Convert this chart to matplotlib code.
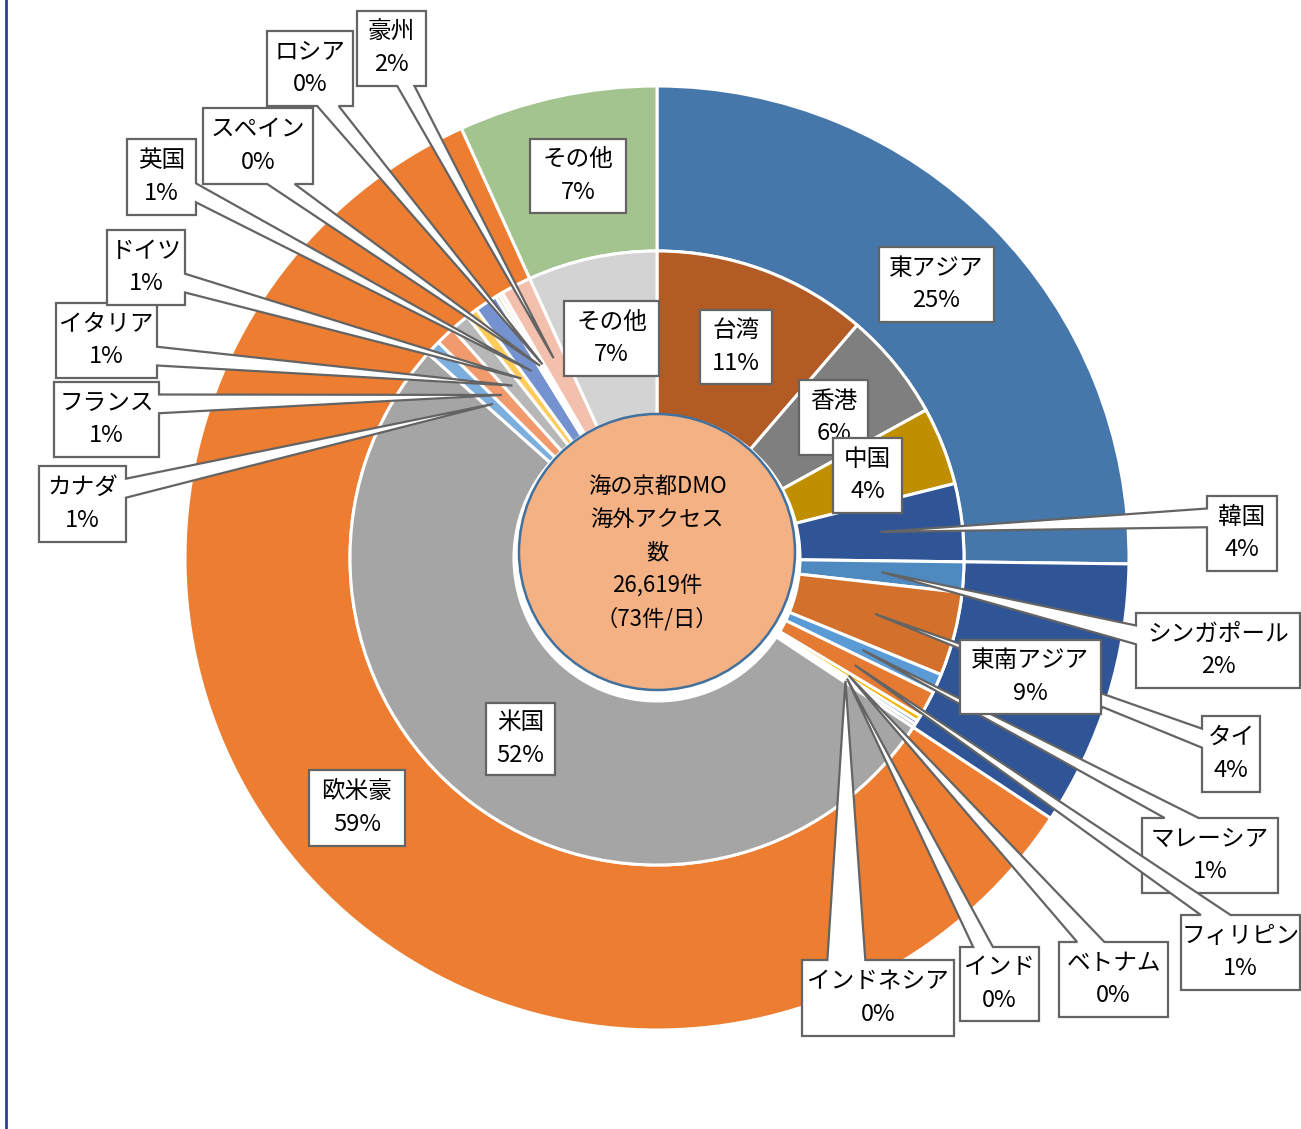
import matplotlib
matplotlib.use('Agg')
import matplotlib.pyplot as plt
import numpy as np
from matplotlib.patches import Polygon, Circle
from matplotlib.lines import Line2D

plt.rcParams['font.family'] = ['Noto Sans CJK JP', 'DejaVu Sans']

# access share by country (%), grouped by region
east_asia = ['台湾', '香港', '中国', '韓国']
east_asia_share = [11.3, 5.7, 4.1, 4.1]
se_asia = ['シンガポール', 'タイ', 'マレーシア', 'フィリピン', 'ベトナム', 'インド', 'インドネシア']
se_asia_share = [1.6, 4.4, 1.0, 1.4, 0.3, 0.2, 0.2]
western = ['米国', 'カナダ', 'フランス', 'イタリア', 'ドイツ', '英国', 'スペイン', 'ロシア', '豪州']
western_share = [52.3, 0.8, 1.0, 1.0, 0.6, 1.2, 0.2, 0.2, 1.6]
others = ['その他']
others_share = [6.8]

regions = ['東アジア', '東南アジア', '欧米豪', 'その他']
center_text = '海の京都DMO\n海外アクセス\n数\n26,619件\n（73件/日）'

countries = east_asia + se_asia + western + others
country_share = east_asia_share + se_asia_share + western_share + others_share
region_share = [sum(east_asia_share), sum(se_asia_share), sum(western_share), sum(others_share)]

region_colors = ['#4677AB', '#2F5597', '#ED7D31', '#A3C48F']
country_colors = ['#B25B24', '#7F7F7F', '#BF8F00', '#2F5597',
                  '#4E89C0', '#D3702B', '#5B9BD5', '#E57A33', '#F2B400', '#4472C4', '#A5A5A5',
                  '#A5A5A5', '#7CAFDD', '#F09A6E', '#B7B7B7', '#FFCB5A', '#7592D0',
                  '#C5D9A0', '#F8D9C8', '#F4C0AE',
                  '#D3D3D3']

# label boxes, pixel coords (left, top, right, bottom)
country_boxes = {
    '台湾': (700, 310, 772, 384), '香港': (799, 380, 868, 455),
    '中国': (833, 438, 902, 513), '韓国': (1207, 496, 1277, 571),
    'シンガポール': (1136, 613, 1300, 688), 'タイ': (1202, 716, 1260, 792),
    'マレーシア': (1142, 818, 1278, 893), 'フィリピン': (1181, 915, 1300, 990),
    'ベトナム': (1059, 942, 1168, 1017), 'インド': (960, 947, 1039, 1021),
    'インドネシア': (802, 960, 954, 1036), '米国': (486, 703, 555, 775),
    'カナダ': (39, 466, 126, 542), 'フランス': (54, 382, 159, 457),
    'イタリア': (56, 303, 157, 378), 'ドイツ': (107, 230, 185, 305),
    '英国': (127, 139, 196, 215), 'スペイン': (203, 108, 313, 184),
    'ロシア': (267, 31, 353, 106), '豪州': (357, 11, 426, 86),
    'その他': (564, 301, 659, 376),
}
region_boxes = {
    '東アジア': (879, 247, 994, 322), '東南アジア': (960, 640, 1101, 714),
    '欧米豪': (309, 770, 405, 846), 'その他': (530, 139, 626, 213),
}

W, H = 1301, 1129
CX, CY, S = 657, 558, 472.0
R_MID = 307 / S
R_IN = 143 / S


def to_data(x, y):
    return (x - CX) / S, (CY - y) / S


def to_px(x, y):
    return CX + S * x, CY - S * y


def callout_outline(box, tip):
    """Rectangle outline with a wedge pointing at tip (pixel coords)."""
    x0, y0, x1, y1 = box
    w, h = x1 - x0, y1 - y0
    cx, cy = (x0 + x1) / 2, (y0 + y1) / 2
    tx, ty = tip
    if x0 <= tx <= x1 and y0 <= ty <= y1:
        return [(x0, y0), (x1, y0), (x1, y1), (x0, y1)]
    dx, dy = (tx - cx) / w, (ty - cy) / h
    fx = (7, 10) if tx > cx else (2, 5)
    fy = (7, 10) if ty > cy else (2, 5)
    bx = [x0 + w * f / 12 for f in fx]
    by = [y0 + h * f / 12 for f in fy]
    top = [(x0, y0)]
    right = [(x1, y0)]
    bottom = [(x1, y1)]
    left = [(x0, y1)]
    if abs(dy) > abs(dx):
        if ty < cy:
            top += [(bx[0], y0), tip, (bx[1], y0)]
        else:
            bottom += [(bx[1], y1), tip, (bx[0], y1)]
    else:
        if tx > cx:
            right += [(x1, by[0]), tip, (x1, by[1])]
        else:
            left += [(x0, by[1]), tip, (x0, by[0])]
    return top + right + bottom + left


def draw_label(ax, text, box, tip, z):
    pts = [to_data(*p) for p in callout_outline(box, tip)]
    ax.add_patch(Polygon(pts, closed=True, facecolor='white', edgecolor='#646464',
                         linewidth=1.6, joinstyle='miter', zorder=z))
    cx, cy = to_data((box[0] + box[2]) / 2, (box[1] + box[3]) / 2)
    ax.text(cx, cy, text, ha='center', va='center', fontsize=17,
            linespacing=1.55, zorder=z + 0.5)


def mid_points(values, r):
    total = sum(values)
    pts, cum = [], 0.0
    for v in values:
        theta = np.deg2rad(90 - 360 * (cum + v / 2) / total)
        pts.append(to_px(r * np.cos(theta), r * np.sin(theta)))
        cum += v
    return pts


def pct(v, total):
    return int(v / total * 100 + 0.5)


fig = plt.figure(figsize=(W / 100, H / 100), dpi=100)
ax = fig.add_axes([0, 0, 1, 1])

ax.pie(region_share, radius=1.0, colors=region_colors, startangle=90,
       counterclock=False,
       wedgeprops=dict(width=1.0 - R_MID, edgecolor='white', linewidth=2.2))
ax.pie(country_share, radius=R_MID, colors=country_colors, startangle=90,
       counterclock=False,
       wedgeprops=dict(width=R_MID - R_IN, edgecolor='white', linewidth=2.2))

ax.add_patch(Circle(to_data(657, 552), 138 / S, facecolor='#F4B183',
                    edgecolor='#41719C', linewidth=1.8, zorder=5))
ax.text(*to_data(657, 553), center_text, ha='center', va='center',
        fontsize=16, linespacing=1.55, zorder=6)

z = 10
total = sum(country_share)
tips = mid_points(country_share, (R_MID + R_IN) / 2)
for name, v, tip in zip(countries, country_share, tips):
    draw_label(ax, f'{name}\n{pct(v, total)}%', country_boxes[name], tip, z)
    z += 1

tips = mid_points(region_share, (1.0 + R_MID) / 2)
for name, v, tip in zip(regions, region_share, tips):
    draw_label(ax, f'{name}\n{pct(v, total)}%', region_boxes[name], tip, z)
    z += 1

ax.set_xlim(-CX / S, (W - CX) / S)
ax.set_ylim((CY - H) / S, CY / S)
ax.set_aspect('equal')
ax.axis('off')

fig.add_artist(Line2D([6 / W, 6 / W], [0, 1], color='#2F3E8E', linewidth=2))

fig.savefig('out.png', dpi=100)
